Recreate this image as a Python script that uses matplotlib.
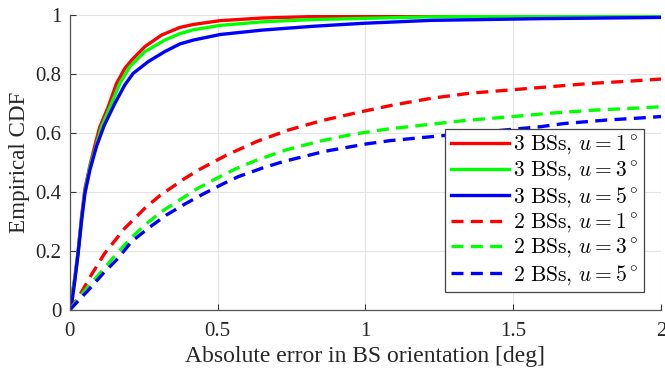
import matplotlib
matplotlib.use("Agg")
import matplotlib.pyplot as plt

plt.rcParams['font.family'] = ['Liberation Serif', 'DejaVu Serif']
plt.rcParams['mathtext.fontset'] = 'cm'

# 3 BSs (solid)
x3_u1 = [0, 0.017, 0.028, 0.04, 0.051, 0.068, 0.088, 0.1015, 0.13, 0.158, 0.186, 0.209, 0.254, 0.31, 0.372,
         0.417, 0.508, 0.65, 0.823, 1.22, 2.0]
y3_u1 = [0, 0.11, 0.20, 0.32, 0.41, 0.49, 0.57, 0.621, 0.689, 0.768, 0.819, 0.847, 0.893, 0.932, 0.958,
         0.968, 0.981, 0.99, 0.995, 1.0, 1.0]
x3_u3 = [0, 0.017, 0.028, 0.04, 0.051, 0.068, 0.09, 0.107, 0.141, 0.169, 0.203, 0.254, 0.321, 0.372,
         0.417, 0.508, 0.65, 0.823, 1.22, 2.0]
y3_u3 = [0, 0.105, 0.195, 0.31, 0.40, 0.485, 0.56, 0.621, 0.70, 0.768, 0.825, 0.876, 0.915, 0.937,
         0.95, 0.965, 0.977, 0.985, 0.994, 0.998]
x3_u5 = [0, 0.006, 0.017, 0.028, 0.04, 0.051, 0.068, 0.09, 0.116, 0.152, 0.186, 0.214, 0.265, 0.321, 0.372,
         0.417, 0.508, 0.65, 0.823, 0.99, 1.22, 1.6, 2.0]
y3_u5 = [0, 0.017, 0.10, 0.19, 0.305, 0.395, 0.475, 0.554, 0.625, 0.70, 0.763, 0.802, 0.842, 0.876, 0.902,
         0.915, 0.934, 0.949, 0.962, 0.972, 0.982, 0.988, 0.992]

# 2 BSs (dashed)
x2_u1 = [0, 0.034, 0.073, 0.118, 0.186, 0.254, 0.305, 0.389, 0.44, 0.53, 0.632, 0.739, 0.852, 0.976,
         1.094, 1.224, 1.354, 1.489, 1.624, 1.76, 1.895, 2.0]
y2_u1 = [0, 0.051, 0.119, 0.192, 0.277, 0.345, 0.388, 0.446, 0.477, 0.525, 0.571, 0.61, 0.642, 0.67,
         0.695, 0.718, 0.735, 0.746, 0.757, 0.768, 0.776, 0.783]
x2_u3 = [0, 0.05, 0.107, 0.152, 0.203, 0.254, 0.31, 0.372, 0.429, 0.496, 0.558, 0.632, 0.733, 0.84, 0.953,
         1.072, 1.207, 1.342, 1.489, 1.636, 1.782, 1.929, 2.0]
y2_u3 = [0, 0.065, 0.13, 0.183, 0.24, 0.288, 0.333, 0.373, 0.41, 0.446, 0.477, 0.508, 0.543, 0.571, 0.595,
         0.613, 0.628, 0.643, 0.655, 0.668, 0.678, 0.685, 0.689]
x2_u5 = [0, 0.068, 0.113, 0.163, 0.209, 0.268, 0.327, 0.389, 0.451, 0.519, 0.57, 0.654, 0.722, 0.863,
         1.004, 1.083, 1.196, 1.59, 1.67, 1.816, 1.963, 2.0]
y2_u5 = [0, 0.073, 0.124, 0.175, 0.232, 0.279, 0.322, 0.359, 0.393, 0.428, 0.452, 0.482, 0.503, 0.538,
         0.563, 0.574, 0.585, 0.621, 0.632, 0.644, 0.653, 0.656]

labels = [r'$\mathrm{3\ BSs},\,u=1^\circ$', r'$\mathrm{3\ BSs},\,u=3^\circ$', r'$\mathrm{3\ BSs},\,u=5^\circ$',
          r'$\mathrm{2\ BSs},\,u=1^\circ$', r'$\mathrm{2\ BSs},\,u=3^\circ$', r'$\mathrm{2\ BSs},\,u=5^\circ$']
xticks = [0, 0.5, 1, 1.5, 2]
xticklabels = ['0', '0.5', '1', '1.5', '2']
yticks = [0, 0.2, 0.4, 0.6, 0.8, 1]
yticklabels = ['0', '0.2', '0.4', '0.6', '0.8', '1']

fig = plt.figure(figsize=(6.65, 3.77), dpi=100)
ax = fig.add_axes([0.105, 0.178, 0.889, 0.782])

lw = 2.4
dash = (0, (3.6, 2.2))
kw = dict(lw=lw, solid_joinstyle='round', dash_joinstyle='round')
ax.plot(x3_u1, y3_u1, color='#ff0000', label=labels[0], **kw)
ax.plot(x3_u3, y3_u3, color='#00ff00', label=labels[1], **kw)
ax.plot(x3_u5, y3_u5, color='#0000ff', label=labels[2], **kw)
ax.plot(x2_u1, y2_u1, color='#ff0000', ls=dash, label=labels[3], **kw)
ax.plot(x2_u3, y2_u3, color='#00ff00', ls=dash, label=labels[4], **kw)
ax.plot(x2_u5, y2_u5, color='#0000ff', ls=dash, label=labels[5], **kw)

ax.set_xlim(0, 2)
ax.set_ylim(0, 1)
ax.set_xticks(xticks)
ax.set_xticklabels(xticklabels)
ax.set_yticks(yticks)
ax.set_yticklabels(yticklabels)
ax.grid(True, color='#e3e3e3', lw=0.8)
ax.set_axisbelow(True)
for s in ['top', 'right']:
    ax.spines[s].set_visible(False)
for s in ['left', 'bottom']:
    ax.spines[s].set_color('#555555')
    ax.spines[s].set_linewidth(0.9)
ax.tick_params(direction='in', length=4, width=0.8, color='#333333', labelsize=15,
               labelcolor='#262626')
ax.tick_params(axis='x', pad=9)
ax.tick_params(axis='y', pad=6)

ax.set_xlabel('Absolute error in BS orientation [deg]', fontsize=17, color='#262626', labelpad=3)
ax.set_ylabel('Empirical CDF', fontsize=16.6, color='#262626', labelpad=4)

leg = ax.legend(loc='lower right', bbox_to_anchor=(0.971, 0.061), fontsize=15.5,
                frameon=True, fancybox=False, edgecolor='#444444', framealpha=1,
                handlelength=2.7, handletextpad=0.2, labelspacing=0.12,
                borderpad=0.25, borderaxespad=0)
leg.get_frame().set_linewidth(0.9)

fig.savefig('out.png', dpi=100)
